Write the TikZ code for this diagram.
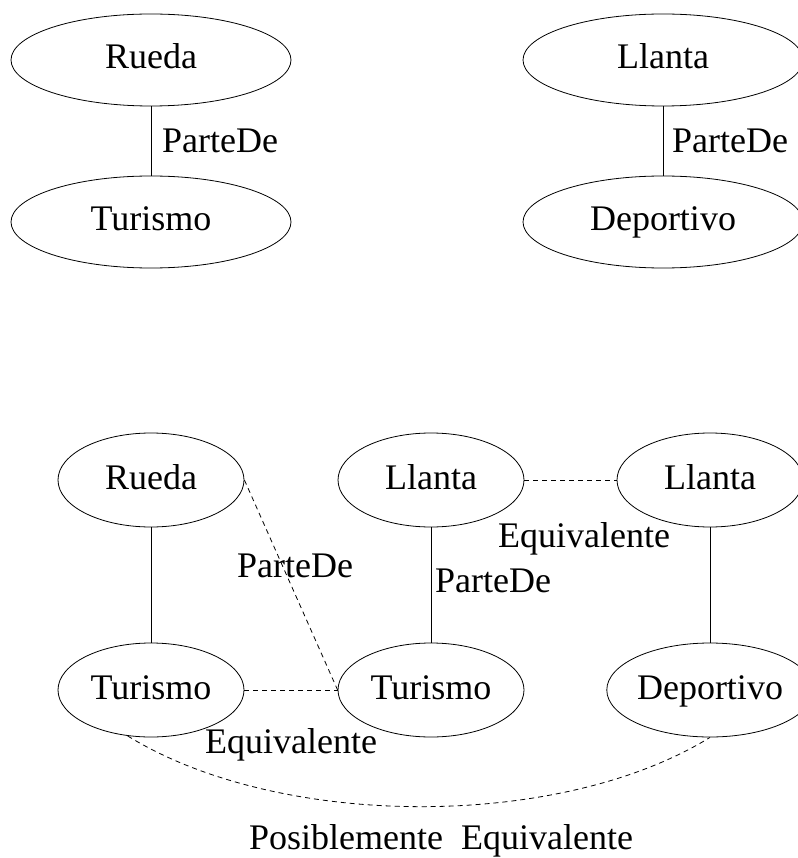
\documentclass[tikz,border=0pt]{standalone}
\usepackage{fontspec}
\setmainfont{Liberation Serif}
\usetikzlibrary{shapes.geometric}
\begin{document}
\begin{tikzpicture}[x=1pt,y=-1pt,
  every node/.style={font=\fontsize{36}{40}\selectfont, inner sep=0pt},
  bigell/.style={ellipse, draw, line width=0.8pt, minimum width=280pt, minimum height=92pt, text height=26pt, text depth=8pt},
  smallell/.style={ellipse, draw, line width=0.8pt, minimum width=186pt, minimum height=94pt, text height=26pt, text depth=8pt},
  lbl/.style={anchor=base west},
  solidedge/.style={line width=0.8pt},
  dashedge/.style={line width=0.8pt, dash pattern=on 5pt off 4pt}]
\useasboundingbox (0,0) rectangle (797,858);
% top graphs
\node[bigell] (tR) at (151,60) {Rueda};
\node[bigell] (tT) at (151,222) {Turismo};
\node[bigell] (tL) at (663,60) {Llanta};
\node[bigell] (tD) at (663,222) {Deportivo};
\draw[solidedge] (tR.south) -- (tT.north);
\draw[solidedge] (tL.south) -- (tD.north);
\node[lbl] (tlab1) at (162,153) {ParteDe};
\node[lbl] (tlab2) at (672,153) {ParteDe};
% bottom graph
\node[smallell] (bR) at (151,480) {Rueda};
\node[smallell] (bT) at (151,690) {Turismo};
\node[smallell] (mL) at (431,480) {Llanta};
\node[smallell] (mT) at (431,690) {Turismo};
\node[smallell] (rL) at (710,480) {Llanta};
\node[smallell] (rD) at (710,690) {Deportivo};
\draw[solidedge] (bR.south) -- (bT.north);
\draw[solidedge] (mL.south) -- (mT.north);
\draw[solidedge] (rL.south) -- (rD.north);
\draw[dashedge] (mL.east) -- (rL.west);
\draw[dashedge] (bT.east) -- (mT.west);
\draw[dashedge] (bR.east) -- (mT.west);
\draw[dashedge] (bT.243) .. controls (280,830) and (560,830) .. (rD.south);
\node[lbl] (blab1) at (237,577) {ParteDe};
\node[lbl] (blab2) at (435,592) {ParteDe};
\node[lbl] (blab3) at (498,547) {Equivalente};
\node[lbl] (blab4) at (205,753) {Equivalente};
\node[anchor=base] (blab5) at (441,849) {Posiblemente\hspace{0.5em}Equivalente};
\end{tikzpicture}
\end{document}
